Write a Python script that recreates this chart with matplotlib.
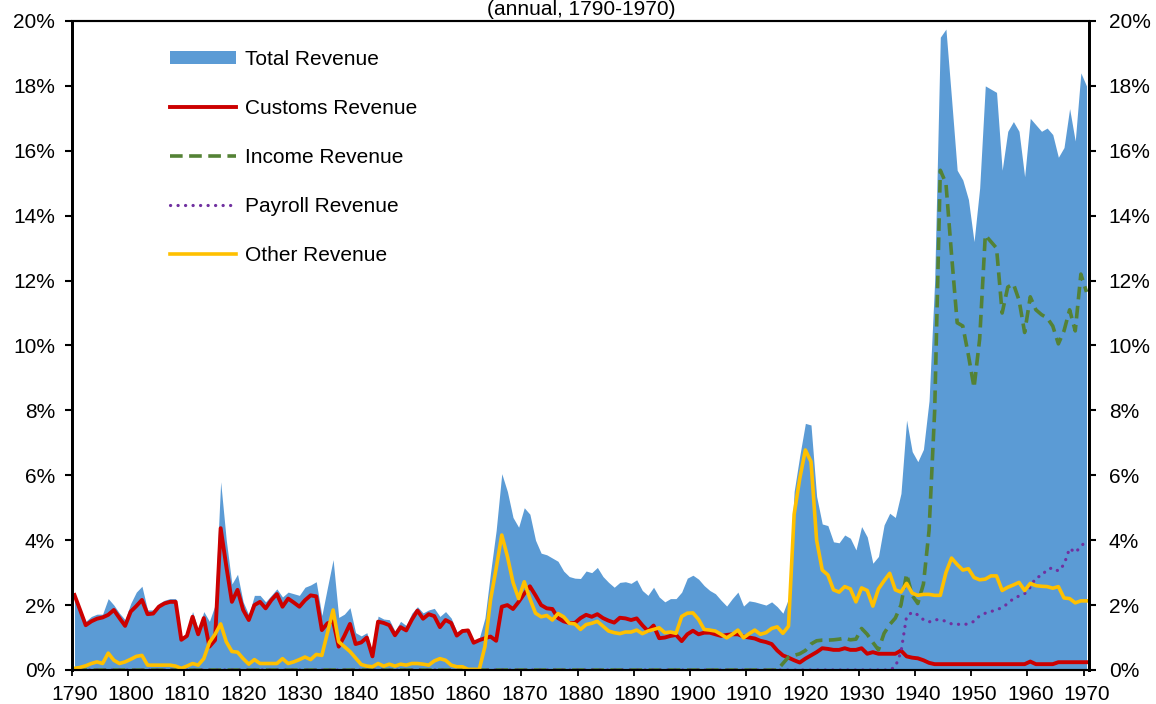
import matplotlib
matplotlib.use("Agg")
import matplotlib.pyplot as plt
from matplotlib.ticker import FuncFormatter

plt.rcParams['font.family'] = ['Liberation Sans', 'DejaVu Sans']

years = list(range(1790, 1971))

# share of GDP, %
total = [
    2.31, 1.9, 1.5, 1.65, 1.72, 1.72, 2.2, 2.0, 1.75, 1.55,
    2.05, 2.4, 2.58, 1.85, 1.85, 2.05, 2.15, 2.2, 2.2, 0.98,
    1.15, 1.8, 1.25, 1.8, 1.5, 2.0, 5.8, 4.0, 2.65, 2.95,
    2.1, 1.7, 2.3, 2.3, 2.1, 2.3, 2.5, 2.25, 2.4, 2.35,
    2.3, 2.55, 2.62, 2.72, 1.68, 2.55, 3.4, 1.62, 1.72, 1.92,
    1.15, 1.05, 1.15, 0.52, 1.66, 1.57, 1.55, 1.2, 1.5, 1.37,
    1.75, 1.95, 1.76, 1.85, 1.9, 1.65, 1.8, 1.6, 1.18, 1.28,
    1.26, 0.88, 0.98, 1.6, 3.0, 4.3, 6.05, 5.5, 4.7, 4.4,
    5.0, 4.8, 4.0, 3.6, 3.55, 3.45, 3.35, 3.05, 2.88, 2.83,
    2.82, 3.05, 3.0, 3.16, 2.88, 2.7, 2.55, 2.7, 2.72, 2.67,
    2.78, 2.45, 2.3, 2.55, 2.25, 2.1, 2.2, 2.2, 2.4, 2.83,
    2.92, 2.8, 2.6, 2.45, 2.35, 2.15, 1.97, 2.2, 2.4, 1.97,
    2.13, 2.1, 2.05, 2.0, 2.1, 1.95, 1.75, 2.2, 5.5, 6.6,
    7.6, 7.55, 5.35, 4.5, 4.45, 3.95, 3.92, 4.16, 4.06, 3.7,
    4.42, 4.1, 3.29, 3.5, 4.47, 4.83, 4.7, 5.44, 7.7, 6.73,
    6.42, 6.8, 8.3, 12.0, 19.5, 19.75, 17.6, 15.4, 15.1, 14.5,
    13.2, 14.85, 18.0, 17.9, 17.8, 15.4, 16.6, 16.9, 16.6, 15.2,
    17.0, 16.8, 16.6, 16.7, 16.5, 15.8, 16.1, 17.3, 16.3, 18.4,
    18.0,
]

customs = [
    2.31, 1.85, 1.38, 1.5, 1.58, 1.62, 1.7, 1.85, 1.6, 1.36,
    1.8, 1.97, 2.16, 1.72, 1.74, 1.95, 2.05, 2.1, 2.1, 0.93,
    1.05, 1.64, 1.1, 1.6, 0.72, 0.92, 4.37, 3.2, 2.1, 2.47,
    1.85, 1.54, 2.0, 2.1, 1.9, 2.15, 2.34, 1.95, 2.2, 2.08,
    1.95, 2.15, 2.3, 2.27, 1.23, 1.44, 1.5, 0.72, 1.05, 1.42,
    0.8, 0.85, 1.0, 0.42, 1.49, 1.45, 1.38, 1.07, 1.32, 1.22,
    1.55, 1.83, 1.58, 1.72, 1.66, 1.32, 1.54, 1.45, 1.06, 1.2,
    1.22, 0.84, 0.92, 0.98, 1.03, 0.9, 1.95, 2.0, 1.88, 2.1,
    2.35, 2.58, 2.3, 2.0, 1.9, 1.88, 1.6, 1.5, 1.45, 1.45,
    1.6, 1.7, 1.64, 1.72, 1.6, 1.52, 1.46, 1.61, 1.59, 1.54,
    1.59, 1.38, 1.2, 1.37, 0.98, 1.0, 1.05, 1.08, 0.89, 1.1,
    1.21, 1.1, 1.15, 1.15, 1.1, 1.05, 1.08, 1.1, 1.1, 1.03,
    1.0, 0.97, 0.9, 0.86, 0.8, 0.6, 0.45, 0.38, 0.3, 0.23,
    0.35, 0.45, 0.55, 0.67, 0.65, 0.62, 0.62, 0.67, 0.62, 0.62,
    0.67, 0.5, 0.55, 0.5, 0.5, 0.5, 0.5, 0.6, 0.42, 0.38,
    0.36, 0.3, 0.22, 0.18, 0.18, 0.18, 0.18, 0.18, 0.18, 0.18,
    0.18, 0.18, 0.18, 0.18, 0.18, 0.18, 0.18, 0.18, 0.18, 0.18,
    0.26, 0.18, 0.18, 0.18, 0.18, 0.24, 0.24, 0.24, 0.24, 0.24,
    0.24,
]

income = [0.0] * 125 + [
    0.0, 0.2, 0.4, 0.45, 0.5,
    0.6, 0.8, 0.9, 0.92, 0.92, 0.93, 0.95, 0.98, 0.93, 0.95,
    1.28, 1.1, 0.85, 0.62, 1.13, 1.4, 1.6, 2.0, 2.96, 2.3,
    2.05, 2.65, 4.3, 8.0, 15.4, 15.0, 12.8, 10.7, 10.6, 9.7,
    8.7, 10.2, 13.4, 13.2, 13.0, 11.0, 11.8, 11.9, 11.4, 10.4,
    11.5, 11.1, 10.95, 10.85, 10.6, 10.05, 10.45, 11.1, 10.45, 12.2,
    11.65,
]

payroll = [0.0] * 146 + [
    0.1, 0.55, 1.65, 1.78,
    1.7, 1.55, 1.48, 1.55, 1.55, 1.5, 1.42, 1.41, 1.4, 1.42,
    1.5, 1.67, 1.75, 1.8, 1.86, 1.92, 2.05, 2.2, 2.28, 2.35,
    2.55, 2.85, 2.9, 3.1, 3.15, 3.05, 3.25, 3.75, 3.62, 3.8,
    4.0,
]

other = [
    0.05, 0.08, 0.13, 0.2, 0.25, 0.2, 0.52, 0.3, 0.2, 0.25,
    0.33, 0.42, 0.45, 0.15, 0.15, 0.15, 0.15, 0.15, 0.12, 0.05,
    0.12, 0.2, 0.15, 0.35, 0.85, 1.1, 1.42, 0.87, 0.57, 0.55,
    0.35, 0.18, 0.32, 0.2, 0.2, 0.2, 0.2, 0.35, 0.2, 0.25,
    0.32, 0.4, 0.32, 0.48, 0.45, 1.15, 1.85, 0.87, 0.72, 0.57,
    0.37, 0.17, 0.12, 0.1, 0.2, 0.12, 0.18, 0.12, 0.18, 0.15,
    0.2, 0.2, 0.18, 0.15, 0.28, 0.35, 0.3, 0.15, 0.1, 0.1,
    0.02, 0.02, 0.02, 0.72, 2.16, 3.13, 4.16, 3.5, 2.7, 2.2,
    2.72, 2.2, 1.75, 1.64, 1.68, 1.54, 1.74, 1.64, 1.44, 1.42,
    1.25, 1.4, 1.44, 1.5, 1.35, 1.2, 1.15, 1.12, 1.17, 1.17,
    1.23, 1.12, 1.2, 1.25, 1.3, 1.15, 1.17, 1.13, 1.65, 1.75,
    1.76, 1.56, 1.25, 1.23, 1.2, 1.1, 0.99, 1.1, 1.23, 0.99,
    1.12, 1.23, 1.1, 1.15, 1.28, 1.33, 1.13, 1.35, 4.8, 5.9,
    6.78, 6.42, 4.0, 3.08, 2.93, 2.47, 2.4, 2.57, 2.5, 2.1,
    2.53, 2.45, 1.97, 2.5, 2.75, 2.98, 2.47, 2.4, 2.67, 2.37,
    2.3, 2.33, 2.33, 2.3, 2.3, 3.0, 3.45, 3.25, 3.08, 3.12,
    2.85, 2.78, 2.8, 2.9, 2.9, 2.45, 2.55, 2.62, 2.7, 2.45,
    2.67, 2.6, 2.58, 2.57, 2.52, 2.57, 2.22, 2.2, 2.07, 2.13,
    2.13,
]

decades = list(range(1790, 1971, 10))
pct_ticks = list(range(0, 21, 2))

fig = plt.figure(figsize=(11.56, 7.04), dpi=100)
ax = fig.add_axes([0.062, 0.0483, 0.8803, 0.9219])

ax.fill_between(years, total, color='#5B9BD5', lw=0, label='Total Revenue')
ax.plot(years, customs, color='#CC0000', lw=2.8, label='Customs Revenue')
ax.plot(years, income, color='#548235', lw=2.6, dashes=(3.5, 1.8),
        label='Income Revenue')
ax.plot(years, payroll, color='#7030A0', lw=2.3, linestyle=(0, (0.05, 2.3)),
        dash_capstyle='round', label='Payroll Revenue')
ax.plot(years, other, color='#FFC000', lw=2.6, label='Other Revenue')

ax.set_xlim(1789.5, 1970.5)
ax.set_ylim(0, 20)

# ticks sit between categories, labels under the decade year
ax.set_xticks([d - 0.5 for d in decades])
ax.set_xticklabels([])
ax.set_xticks(decades, minor=True)
ax.set_xticklabels([str(d) for d in decades], minor=True, fontsize=15)
ax.tick_params(axis='x', which='major', direction='out', length=4, width=1.3)
ax.tick_params(axis='x', which='minor', length=0, pad=11)

pct = FuncFormatter(lambda v, p: '%d%%' % v)
ax.set_yticks(pct_ticks)
ax.yaxis.set_major_formatter(pct)
ax.tick_params(axis='y', direction='out', length=5, width=1.5, labelsize=15, pad=7)

ax2 = ax.twinx()
ax2.set_ylim(0, 20)
ax2.set_yticks(pct_ticks)
ax2.yaxis.set_major_formatter(pct)
ax2.tick_params(axis='y', direction='out', length=5, width=1.5, labelsize=15, pad=9)

for a in (ax, ax2):
    a.spines['left'].set_linewidth(2.0)
    a.spines['right'].set_linewidth(2.0)
    a.spines['top'].set_linewidth(1.5)
    a.spines['bottom'].set_linewidth(1.5)

ax.legend(loc='upper left', bbox_to_anchor=(0.078, 0.984), frameon=False,
          fontsize=15, handlelength=3.2, handleheight=0.56, handletextpad=0.4,
          labelspacing=1.44)

fig.text(0.503, 1.0, '(annual, 1790-1970)', ha='center', va='top', fontsize=15)

fig.savefig('out.png', dpi=100)
